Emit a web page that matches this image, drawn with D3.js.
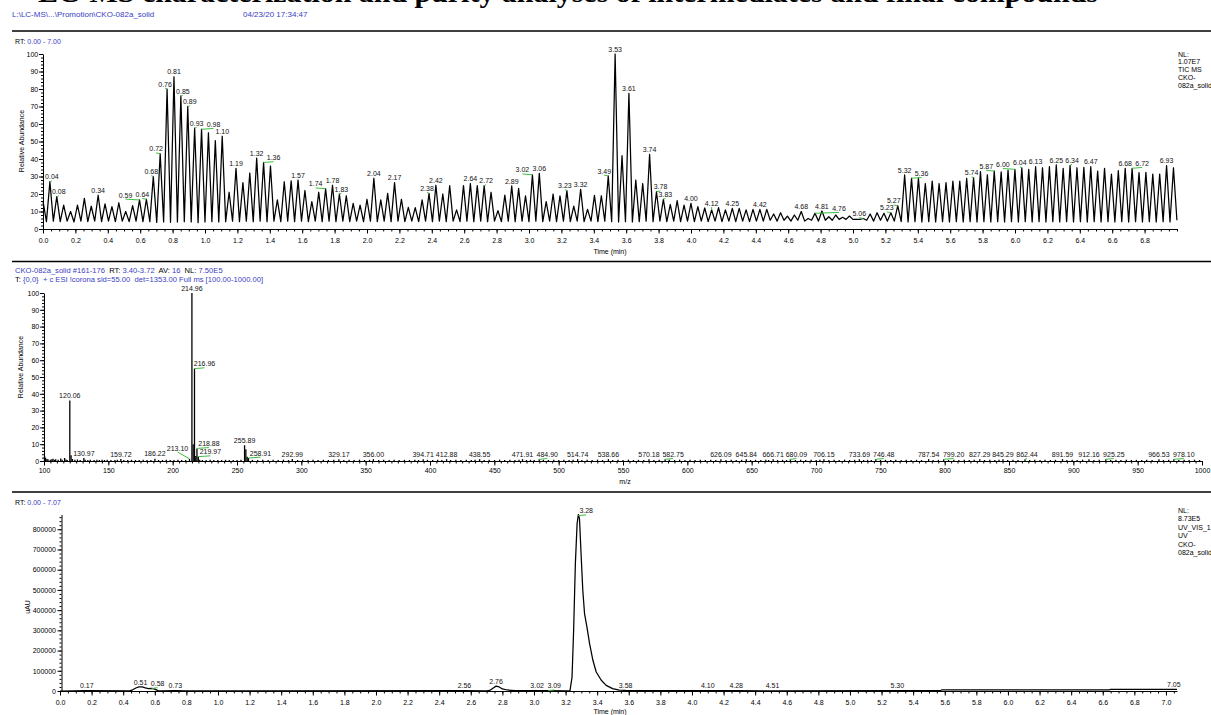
<!DOCTYPE html>
<html><head><meta charset="utf-8">
<script src="https://cdn.jsdelivr.net/npm/d3@7"></script>
<style>
body{margin:0;background:#fff;}
svg{display:block;font-family:"Liberation Sans",Arial,sans-serif;}
</style></head><body>
<svg id="c" width="1211" height="715"></svg>
<script>
// ---------------- DATA ----------------
const titleText = "LC-MS characterization and purity analyses of intermediates and final compounds";
const filePath = "L:\\LC-MS\\...\\Promotion\\CKO-082a_solid";
const runDate = "04/23/20 17:34:47";

// TIC (panel 1): alternating scans; peak scan heights and the low scans between them (relative abundance %)
const ticScanStep = 0.04255; // min between two scans of the same type
const ticPeaks = [
 16,27,18.5,13.7,10,13.7,17.5,13,19.3,14.3,12.8,15,10,13.4,16.6,
 17,30,43,80,87,76,70,57.6,57,55,50.5,53,21,34.7,26.5,
 32,40.5,38,36,16.6,27,27.5,28,22,15.6,21,23,25,20,19,
 14.7,13.7,17,29,16.6,20.4,26.5,17,12.4,12.2,16.6,20.4,25,20,24.8,
 10.9,24.8,26,24.8,24.8,21,10.5,19.4,24.6,23.2,18.9,31,31.8,15.6,20,
 18.9,22,13.1,22.7,11.2,19.2,19,30.3,100,41.9,77.5,28,26,42.7,21.3,
 17,14,16.2,13.7,14.7,12.8,12,10.9,12.2,10.9,11.8,11.8,10.9,11.2,11.2,
 11.2,8.6,9.3,7.4,8,10,6,9,10.3,7,8,6.7,7.4,5.5,6,
 8.6,9.3,9,9.3,13.3,30.9,29,29,26,27.4,26,26.5,27.4,27.4,29,
 29.3,32.8,31,33.1,32.6,33.7,34.1,35,34.1,35.6,35,35.6,36.6,34.7,36.4,
 35,35.2,35.6,33.1,34.7,31.4,33.3,34.7,34.7,32.2,32.4,31.4,31.4,36.2,35
];
const ticTroughs = [
 4.2,4.5,4.2,4.5,4,4.5,4.2,4.5,4.2,4.5,4.2,4.5,4.2,4.5,4.2,
 4.2,3.8,4,3.8,4,4.2,4,3.6,4,4.2,4,4.2,4.5,4.2,4.5,
 4.2,4.5,4.2,4.5,4.2,4.5,4.2,4.5,4.2,4.5,4.2,4.5,4.2,4.5,4.2,
 4.5,4.2,4.5,4.2,4.5,4.2,4.5,4.2,4.5,4.2,4.5,4.2,4.5,4.2,4.5,
 4.2,4.5,4.2,4.5,4.2,4.5,4.2,4.5,4.2,4.5,4.2,4.5,4.2,4.5,4.2,
 4.5,4.2,4.5,4.2,4.5,4.2,4.5,4.2,4,4.2,4,4.2,4.5,4.2,4.5,
 4.2,4.5,4.2,4.5,4.2,4.5,4.2,4.5,4.2,4.5,4.2,4.5,4.2,4.5,4.5,
 5,4.5,5,4.5,5,4.5,5,4.5,5,5,5.5,5.5,5.5,5.5,5,
 4.5,5,4.5,4.5,4.2,4,4.2,4,4.2,4,4.2,4,4.2,4,4.2,
 4,4.2,4,4.2,4,4.2,4,4.2,4,4.2,4,4.2,4,4.2,4,
 4.2,4,4.2,4,4.2,4,4.2,4,4.2,4,4.2,4,4.2,4,5
];
const ticLabels = ["0.04","0.08","0.34","0.59","0.64","0.68","0.72","0.76","0.81","0.85","0.89","0.93","0.98","1.10",
 "1.19","1.32","1.36","1.57","1.74","1.78","1.83","2.04","2.17","2.38","2.42","2.64","2.72","2.89","3.02","3.06",
 "3.23","3.32","3.49","3.53","3.61","3.74","3.78","3.83","4.00","4.12","4.25","4.42","4.68","4.76","4.81","5.06",
 "5.23","5.27","5.32","5.36","5.74","5.87","6.00","6.04","6.13","6.25","6.34","6.47","6.68","6.72","6.93"];
const ticInfo = ["NL:","1.07E7","TIC  MS","CKO-","082a_solid"];

// Mass spectrum (panel 2): [m/z, relative abundance]
const msPeaks = [
 [100.4,3.0],[101.2,2.0],[102.3,1.2],[103.1,1.0],[104.9,0.8],[106.1,1.0],[107.0,1.4],[108.2,0.7],[109.1,1.1],[111.0,0.8],
 [113.0,1.5],[114.1,0.8],[116.0,1.8],[117.1,0.9],[118.0,0.6],[120.06,36],[121.06,3.4],[122.1,1.2],[124.0,0.7],[126.0,0.9],
 [128.1,0.6],[130.97,1.8],[132.0,0.8],[134.1,0.6],[136.0,0.8],[139.0,0.6],[141.1,0.7],[143.0,0.6],[145.1,0.8],[147.0,0.6],
 [149.1,0.7],[152.0,0.6],[155.1,0.6],[157.0,0.7],[159.72,1.2],[162.0,0.6],[165.1,0.6],[168.0,0.7],[171.1,0.6],[174.0,0.6],
 [177.1,0.7],[180.0,0.6],[183.1,0.6],[186.22,1.4],[189.0,0.6],[192.1,0.6],[195.0,0.7],[198.1,0.6],[201.0,0.6],[204.1,0.7],
 [207.0,0.6],[210.1,0.6],[213.10,1.3],[214.96,100],[215.96,10],[216.96,55],[217.96,3],[218.88,7.5],[219.97,2.6],[221.0,0.8],
 [223.1,0.6],[226.0,0.6],[229.1,0.7],[232.0,0.6],[235.1,0.6],[238.0,0.6],[241.1,0.7],[244.0,0.6],[247.1,0.6],[250.0,0.6],
 [253.1,0.8],[255.89,9.4],[256.89,7],[257.9,2.5],[258.91,1.8],[262.0,0.7],[266.1,0.6],[270.0,0.8],[274.2,0.6],[278.1,0.7],
 [282.0,0.6],[286.1,0.8],[290.0,0.6],[292.99,1.2],[297.1,0.6],[301.0,0.7],[305.2,0.6],[309.1,0.8],[313.0,0.6],[317.1,0.7],
 [321.0,0.6],[325.2,0.7],[329.17,1.1],[333.0,0.6],[337.1,0.7],[341.0,0.6],[345.2,0.8],[349.1,0.6],[353.0,0.7],[356.00,1.1],
 [360.1,0.6],[364.0,0.7],[368.2,0.6],[372.1,0.8],[376.0,0.6],[380.1,0.7],[384.0,0.6],[388.2,0.7],[391.1,0.6],[394.71,1.0],
 [398.0,0.7],[402.1,0.6],[406.0,0.8],[409.2,0.6],[412.88,1.1],[416.0,0.6],[420.1,0.7],[424.0,0.6],[428.2,0.8],[432.1,0.6],
 [435.0,0.7],[438.55,1.1],[442.1,0.6],[446.0,0.7],[450.2,0.6],[454.1,0.8],[458.0,0.6],[462.1,0.7],[466.0,0.6],[469.2,0.7],
 [471.91,1.1],[475.0,0.6],[478.1,0.7],[481.0,0.6],[484.90,1.0],[488.1,0.7],[492.0,0.6],[496.2,0.8],[500.1,0.6],[504.0,0.7],
 [508.1,0.6],[511.2,0.7],[514.74,1.1],[518.0,0.6],[522.1,0.7],[526.0,0.6],[530.2,0.8],[534.1,0.6],[538.66,1.1],[542.0,0.6],
 [546.1,0.7],[550.0,0.6],[554.2,0.8],[558.1,0.6],[562.0,0.7],[566.1,0.6],[570.18,1.1],[574.0,0.6],[578.1,0.7],[582.75,1.0],
 [586.0,0.7],[590.1,0.6],[594.0,0.8],[598.2,0.6],[602.1,0.7],[606.0,0.6],[610.1,0.7],[614.0,0.6],[618.2,0.8],[622.1,0.6],
 [626.09,1.1],[630.0,0.6],[634.1,0.7],[638.0,0.6],[642.2,0.7],[645.84,1.0],[649.1,0.6],[653.0,0.7],[657.1,0.6],[661.0,0.8],
 [663.2,0.6],[666.71,1.0],[670.1,0.6],[674.0,0.7],[677.1,0.6],[680.09,1.0],[684.0,0.6],[688.1,0.7],[692.0,0.6],[696.2,0.8],
 [700.1,0.6],[703.0,0.7],[706.15,1.0],[710.0,0.6],[714.1,0.7],[718.0,0.6],[722.2,0.8],[726.1,0.6],[730.0,0.7],[733.69,1.1],
 [737.0,0.6],[740.1,0.7],[743.0,0.6],[746.48,1.0],[750.1,0.6],[754.0,0.7],[758.1,0.6],[762.0,0.8],[766.2,0.6],[770.1,0.7],
 [774.0,0.6],[778.1,0.7],[782.0,0.6],[787.54,1.1],[791.0,0.6],[795.1,0.7],[799.20,1.0],[803.0,0.6],[807.1,0.7],[811.0,0.6],
 [815.2,0.8],[819.1,0.6],[823.0,0.7],[827.29,1.0],[831.0,0.6],[835.1,0.7],[839.0,0.6],[842.2,0.7],[845.29,1.0],[849.0,0.6],
 [853.1,0.7],[857.0,0.6],[862.44,1.0],[866.1,0.6],[870.0,0.7],[874.1,0.6],[878.0,0.8],[882.2,0.6],[886.1,0.7],[891.59,1.1],
 [895.0,0.6],[899.1,0.7],[903.0,0.6],[907.2,0.8],[912.16,1.1],[916.0,0.6],[920.1,0.7],[925.25,1.0],[929.0,0.6],[933.1,0.7],
 [937.0,0.6],[941.2,0.8],[945.1,0.6],[949.0,0.7],[953.1,0.6],[957.0,0.8],[961.2,0.6],[966.53,1.1],[970.0,0.6],[974.1,0.7],
 [978.10,1.0],[982.0,0.6],[986.1,0.7],[990.0,0.6],[994.2,0.8],[998.1,0.6]
];
const msLabels = ["120.06","130.97","159.72","186.22","213.10","214.96","216.96","218.88","219.97","255.89","258.91",
 "292.99","329.17","356.00","394.71","412.88","438.55","471.91","484.90","514.74","538.66","570.18","582.75",
 "626.09","645.84","666.71","680.09","706.15","733.69","746.48","787.54","799.20","827.29","845.29","862.44",
 "891.59","912.16","925.25","966.53","978.10"];
const msHeader1 = [["CKO-082a_solid #161-176",1],["  RT: ",0],["3.40-3.72",1],["  AV: ",0],["16",1],["  NL: ",0],["7.50E5",1]];
const msHeader2 = [["T: ",0],["{0,0}  + c ESI !corona sid=55.00  det=1353.00 Full ms [100.00-1000.00]",1]];

// UV trace (panel 3): [time (min), uAU]
const uvTrace = [
 [0,0],[0.17,1500],[0.44,1000],[0.46,6000],[0.48,15000],[0.50,20500],[0.52,20000],[0.54,15000],[0.56,12000],
 [0.58,12500],[0.60,9000],[0.62,2000],[0.64,500],[0.73,2000],[0.80,500],[2.56,1500],[2.70,1000],[2.72,3000],
 [2.74,14000],[2.76,24000],[2.78,20000],[2.80,10000],[2.83,5000],[2.88,2000],[3.02,2000],[3.09,1500],[3.20,1000],
 [3.228,2000],[3.241,69000],[3.251,300000],[3.262,630000],[3.273,828000],[3.281,873000],[3.288,853000],
 [3.298,680000],[3.309,498000],[3.32,383000],[3.335,317000],[3.352,234000],[3.373,152000],[3.394,94000],
 [3.426,53000],[3.457,28000],[3.498,12000],[3.54,4000],[3.58,2500],[3.7,1500],[4.10,1500],[4.28,1500],
 [4.51,1000],[5.30,1500],[5.57,1500],[5.58,5000],[6.64,5000],[6.65,8000],[7.05,8000],[7.07,8000]
];
const uvLabels = ["0.17","0.51","0.58","0.73","2.56","2.76","3.02","3.09","3.28","3.58","4.10","4.28","4.51","5.30","7.05"];
const uvInfo = ["NL:","8.73E5","UV_VIS_1","UV","CKO-","082a_solid"];

// ---------------- DRAW ----------------
const BLUE = "#3a40c4", GREEN = "#3fbf3f", FONT = "'Liberation Sans',Arial,sans-serif";
const svg = d3.select("#c");
svg.append("rect").attr("width",1211).attr("height",715).attr("fill","#fff");

// Title (cut at top of page, as in the source)
svg.append("text").attr("x",38).attr("y",1.5).attr("font-family","'Liberation Serif','Times New Roman',serif")
  .attr("font-weight","bold").attr("font-size",28).attr("textLength",1060).attr("lengthAdjust","spacingAndGlyphs")
  .text(titleText);
svg.append("text").attr("x",12).attr("y",17).attr("font-size",8).attr("fill",BLUE).text(filePath);
svg.append("text").attr("x",243).attr("y",17).attr("font-size",8).attr("fill",BLUE).text(runDate);

[31,261.5,492].forEach(y=>svg.append("line").attr("x1",12).attr("x2",1211).attr("y1",y).attr("y2",y)
  .attr("stroke","#000").attr("stroke-width",1.3));

function rtText(y, range){
  const t = svg.append("text").attr("x",15).attr("y",y).attr("font-size",7);
  t.append("tspan").attr("fill","#000").text("RT: ");
  t.append("tspan").attr("fill",BLUE).text(range);
}
rtText(44,"0.00 - 7.00");
rtText(504.5,"0.00 - 7.07");

function infoBlock(lines, y0, step){
  lines.forEach((s,i)=>svg.append("text").attr("x",1178).attr("y",y0+i*step).attr("font-size",7).attr("fill","#000").text(s));
}
infoBlock(ticInfo,56.5,7.9);
infoBlock(uvInfo,513,8.4);

function styleAxis(g){
  g.attr("font-family",FONT).attr("font-size",7);
  g.selectAll("text").attr("fill","#000");
  g.selectAll("line").attr("stroke","#000");
  g.selectAll("path").attr("stroke","#000");
}
const rng = (n, step) => d3.range(n).map(i => +(i*step).toFixed(3));

function drawXAxis(x, y, majors, minors, fmt, pad){
  const gm = svg.append("g").attr("transform",`translate(0,${y})`)
    .call(d3.axisBottom(x).tickValues(minors).tickSize(2.5).tickFormat(""));
  gm.select(".domain").remove(); styleAxis(gm);
  const g = svg.append("g").attr("transform",`translate(0,${y})`)
    .call(d3.axisBottom(x).tickValues(majors).tickSize(4.5).tickSizeOuter(0).tickPadding(pad).tickFormat(fmt));
  styleAxis(g);
}
function drawYAxis(yS, xPos, majors, minors, fmt, pad){
  const gm = svg.append("g").attr("transform",`translate(${xPos},0)`)
    .call(d3.axisLeft(yS).tickValues(minors).tickSize(2).tickFormat(""));
  gm.select(".domain").remove(); styleAxis(gm);
  const g = svg.append("g").attr("transform",`translate(${xPos},0)`)
    .call(d3.axisLeft(yS).tickValues(majors).tickSize(4).tickSizeOuter(0).tickPadding(pad).tickFormat(fmt));
  styleAxis(g);
}
function axisTitle(x,y,text,rot){
  const t = svg.append("text").attr("font-size",7).attr("text-anchor","middle").attr("fill","#000").text(text);
  if(rot) t.attr("transform",`translate(${x},${y}) rotate(-90)`);
  else t.attr("x",x).attr("y",y);
}

// generic label placer: avoids other labels and the drawn trace, draws green leader if moved
function placeLabels(layer, items, topFn, xmin, xmax){
  const placed = [];
  const order = items.map((d,i)=>[d,i]).sort((a,b)=> (a[0].y-b[0].y) || (a[1]-b[1])).map(d=>d[0]);
  order.forEach(it=>{
    const t = layer.append("text").attr("font-size",7).attr("text-anchor","middle").attr("fill","#111").text(it.text);
    const w = t.node().getComputedTextLength(), h = 5.6;
    let best = null;
    outer: for(let dy=0; dy<=60; dy+=2){
      for(let k=0;k<=26;k++){
        for(const s of (k===0?[0]:[1,-1])){
          const dx = s*k*2, cx = it.x+dx, bottom = it.y-2-dy;
          const b = {x0:cx-w/2-0.8, x1:cx+w/2+0.8, y0:bottom-h, y1:bottom};
          if(b.x0<xmin || b.x1>xmax) continue;
          if(placed.some(p=>!(b.x1<p.x0||b.x0>p.x1||b.y1<p.y0||b.y0>p.y1))) continue;
          if(topFn(b.x0,b.x1) < bottom+1) continue;
          best = {cx,bottom,b,dx,dy}; break outer;
        }
      }
    }
    if(!best){ best = {cx:it.x,bottom:it.y-2,dx:0,dy:0,b:{x0:it.x-w/2,x1:it.x+w/2,y0:it.y-2-h,y1:it.y-2}}; }
    placed.push(best.b);
    t.attr("x",best.cx).attr("y",best.bottom-0.3);
    if(Math.abs(best.dx)>1 || best.dy>0){
      layer.insert("line","text").attr("x1",it.x).attr("y1",it.y).attr("x2",best.cx).attr("y2",best.bottom+1.2)
        .attr("stroke",GREEN).attr("stroke-width",1);
    }
  });
}
function polyTop(pts){
  return (x0,x1)=>{
    let m = Infinity;
    for(let i=0;i<pts.length-1;i++){
      const a=pts[i], b=pts[i+1];
      if(b[0]<x0 || a[0]>x1) continue;
      const c0=Math.max(x0,a[0]), c1=Math.min(x1,b[0]), dx=(b[0]-a[0])||1;
      m = Math.min(m, a[1]+(b[1]-a[1])*(c0-a[0])/dx, a[1]+(b[1]-a[1])*(c1-a[0])/dx);
    }
    return m;
  };
}

// ---------- Panel 1: TIC ----------
const xT = d3.scaleLinear().domain([0,7.0]).range([43,1177]);
const yT = d3.scaleLinear().domain([0,100]).range([229,54]);
drawYAxis(yT,43,d3.range(0,101,10),d3.range(0,101,2),d3.format("d"),0.8);
drawXAxis(xT,229,rng(35,0.2),rng(141,0.05),d3.format(".1f"),5);
axisTitle(24,141,"Relative Abundance",true);
axisTitle(610,253.5,"Time (min)",false);

const ticPts = [];
ticPeaks.forEach((v,i)=>{ ticPts.push([i*ticScanStep, v]); ticPts.push([(i+0.5)*ticScanStep, ticTroughs[i]]); });
svg.append("path").datum(ticPts).attr("fill","none").attr("stroke","#000").attr("stroke-width",1.25)
  .attr("stroke-linejoin","round").attr("d", d3.line().x(d=>xT(d[0])).y(d=>yT(d[1])));
const ticPix = ticPts.map(d=>[xT(d[0]),yT(d[1])]);
const ticItems = ticLabels.map(s=>{
  const i = Math.round(+s/ticScanStep);
  return {text:s, x:xT(i*ticScanStep), y:yT(ticPeaks[i])};
});
placeLabels(svg.append("g"), ticItems, polyTop(ticPix), 43, 1177);

// ---------- Panel 2: mass spectrum ----------
const xM = d3.scaleLinear().domain([100,1000]).range([44,1202]);
const yM = d3.scaleLinear().domain([0,100]).range([461,293]);
drawYAxis(yM,44,d3.range(0,101,10),d3.range(0,101,2),d3.format("d"),0.8);
const msHead1 = svg.append("text").attr("x",15).attr("y",272.5).attr("font-size",7.6);
msHeader1.forEach(([s,b])=>msHead1.append("tspan").attr("fill",b?BLUE:"#000").text(s));
const msHead2 = svg.append("text").attr("x",15).attr("y",281.5).attr("font-size",7.6);
msHeader2.forEach(([s,b])=>msHead2.append("tspan").attr("fill",b?BLUE:"#000").text(s));
msHead1.attr("xml:space","preserve"); msHead2.attr("xml:space","preserve");
axisTitle(23,367,"Relative Abundance",true);
axisTitle(625,484,"m/z",false);
svg.append("g").selectAll("line").data(msPeaks).join("line")
  .attr("x1",d=>xM(d[0])).attr("x2",d=>xM(d[0])).attr("y1",yM(0)).attr("y2",d=>yM(d[1]))
  .attr("stroke","#000").attr("stroke-width",1.3);
drawXAxis(xM,461,d3.range(100,1001,50),d3.range(100,1001,5),d3.format("d"),2.5);
const msTop = (x0,x1)=>{
  let m = yM(0);
  msPeaks.forEach(d=>{ const px=xM(d[0]); if(px>=x0-1 && px<=x1+1) m=Math.min(m,yM(d[1])); });
  return m;
};
const msItems = msLabels.map(s=>{
  const p = msPeaks.reduce((a,b)=>Math.abs(b[0]-s)<Math.abs(a[0]-s)?b:a);
  return {text:s, x:xM(p[0]), y:yM(p[1])};
});
placeLabels(svg.append("g"), msItems, msTop, 44, 1211);

// ---------- Panel 3: UV ----------
const xB = d3.scaleLinear().domain([0,7.07]).range([60,1177]);
const yB = d3.scaleLinear().domain([0,873000]).range([691,514.5]);
drawYAxis(yB,61.5,d3.range(0,800001,100000),d3.range(0,873000,20000),d3.format("d"),1.5);
drawXAxis(xB,691,rng(36,0.2),rng(142,0.05),d3.format(".1f"),5);
axisTitle(30,607,"uAU",true);
axisTitle(610,714,"Time (min)",false);
svg.append("path").datum(uvTrace).attr("fill","none").attr("stroke","#000").attr("stroke-width",1.25)
  .attr("stroke-linejoin","round").attr("d", d3.line().x(d=>xB(d[0])).y(d=>yB(d[1])));
const uvPix = uvTrace.map(d=>[xB(d[0]),yB(d[1])]);
const uvAt = t => { const i = d3.bisector(d=>d[0]).left(uvTrace,t); if(i<=0) return uvTrace[0][1];
  const a=uvTrace[i-1], b=uvTrace[Math.min(i,uvTrace.length-1)]; return a[1]+(b[1]-a[1])*(t-a[0])/((b[0]-a[0])||1); };
const uvItems = uvLabels.map(s=>({text:s, x:xB(+s), y:yB(uvAt(+s))}));
placeLabels(svg.append("g"), uvItems, polyTop(uvPix), 60, 1185);
</script>
</body></html>
